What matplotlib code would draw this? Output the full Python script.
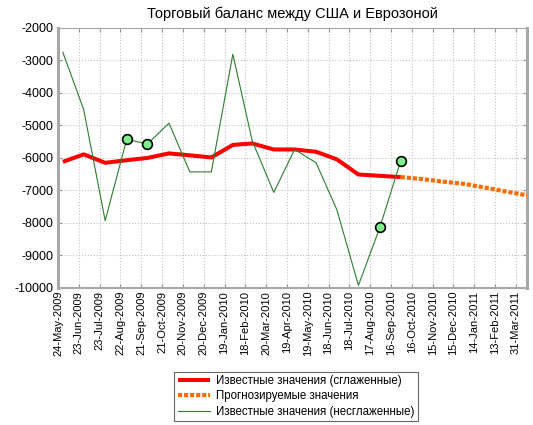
import pandas as pd
import matplotlib
matplotlib.use("Agg")
import matplotlib.pyplot as plt

plt.rcParams['font.family'] = ['Liberation Sans', 'DejaVu Sans']
plt.rcParams['axes.unicode_minus'] = False

# monthly values (end of month)
known_dates = ['2009-05-31', '2009-06-30', '2009-07-31', '2009-08-31', '2009-09-30',
               '2009-10-31', '2009-11-30', '2009-12-31', '2010-01-31', '2010-02-28',
               '2010-03-31', '2010-04-30', '2010-05-31', '2010-06-30', '2010-07-31',
               '2010-08-31', '2010-09-30']
raw_values = [-2750, -4510, -7930, -5430, -5570, -4930, -6430, -6430, -2810, -5480,
              -7060, -5740, -6150, -7600, -9920, -8130, -6080]
smooth_values = [-6120, -5890, -6150, -6070, -6000, -5860, -5920, -5985, -5600, -5555,
                 -5740, -5740, -5810, -6045, -6510, -6550, -6590]

forecast_dates = ['2010-09-30', '2010-10-31', '2010-11-30', '2010-12-31',
                  '2011-01-31', '2011-02-28', '2011-03-31']
forecast_values = [-6590, -6650, -6730, -6800, -6920, -7030, -7150]

marked_dates = ['2009-08-31', '2009-09-30', '2010-08-31', '2010-09-30']

tick_labels = ['24-May-2009', '23-Jun-2009', '23-Jul-2009', '22-Aug-2009', '21-Sep-2009',
               '21-Oct-2009', '20-Nov-2009', '20-Dec-2009', '19-Jan-2010', '18-Feb-2010',
               '20-Mar-2010', '19-Apr-2010', '19-May-2010', '18-Jun-2010', '18-Jul-2010',
               '17-Aug-2010', '16-Sep-2010', '16-Oct-2010', '15-Nov-2010', '15-Dec-2010',
               '14-Jan-2011', '13-Feb-2011', '31-Mar-2011']

kd = pd.to_datetime(known_dates)
fd = pd.to_datetime(forecast_dates)
raw = pd.Series(raw_values, index=kd)
md = pd.to_datetime(marked_dates)

fig = plt.figure(figsize=(5.33, 4.25), dpi=100)
ax = fig.add_axes([0.1088, 0.3224, 0.880, 0.612])

ax.plot(kd, smooth_values, color='red', lw=2.9, solid_capstyle='butt',
        label='Известные значения (сглаженные)', zorder=3)
ax.plot(fd, forecast_values, color='#ff6a00', lw=3.0, linestyle=(0, (1, 0.45)),
        dash_capstyle='butt', label='Прогнозируемые значения', zorder=3)
ax.plot(kd, raw_values, color='#2e7d2e', lw=0.8,
        label='Известные значения (несглаженные)', zorder=4)
ax.plot(md, raw[md].values, 'o', ms=7, mfc='#7ef08e', mec='black', mew=1.2,
        zorder=5, label='_nolegend_')

ticks = pd.date_range('2009-05-24', periods=len(tick_labels), freq='30D')
ax.set_xticks(ticks)
ax.set_xticklabels(tick_labels, rotation=90, fontsize=8)
ax.set_xlim(pd.Timestamp('2009-05-24'), pd.Timestamp('2011-03-31'))

ax.set_ylim(-10000, -2000)
ax.set_yticks(range(-10000, -1999, 1000))
ax.tick_params(axis='y', labelsize=9, pad=3)
ax.tick_params(axis='x', pad=2)
ax.tick_params(direction='in', length=3, color='#909090', top=True, right=True, width=0.8)

ax.grid(True, linestyle=':', color='#c0c0c0', lw=0.8)
for side, w in [('left', 2.2), ('right', 2.2), ('top', 0.8), ('bottom', 1.5)]:
    ax.spines[side].set_color('#a8a8a8')
    ax.spines[side].set_linewidth(w)

ax.set_title('Торговый баланс между США и Еврозоной', fontsize=10.5, pad=7)

leg = fig.legend(loc='center', bbox_to_anchor=(0.5553, 0.0671), fontsize=8.3,
                 frameon=True, fancybox=False, handlelength=2.8, handletextpad=0.5,
                 labelspacing=0.3, borderpad=0.3, borderaxespad=0)
leg.get_frame().set_edgecolor('#404040')
leg.get_frame().set_linewidth(0.8)

fig.savefig('out.png', dpi=100)
